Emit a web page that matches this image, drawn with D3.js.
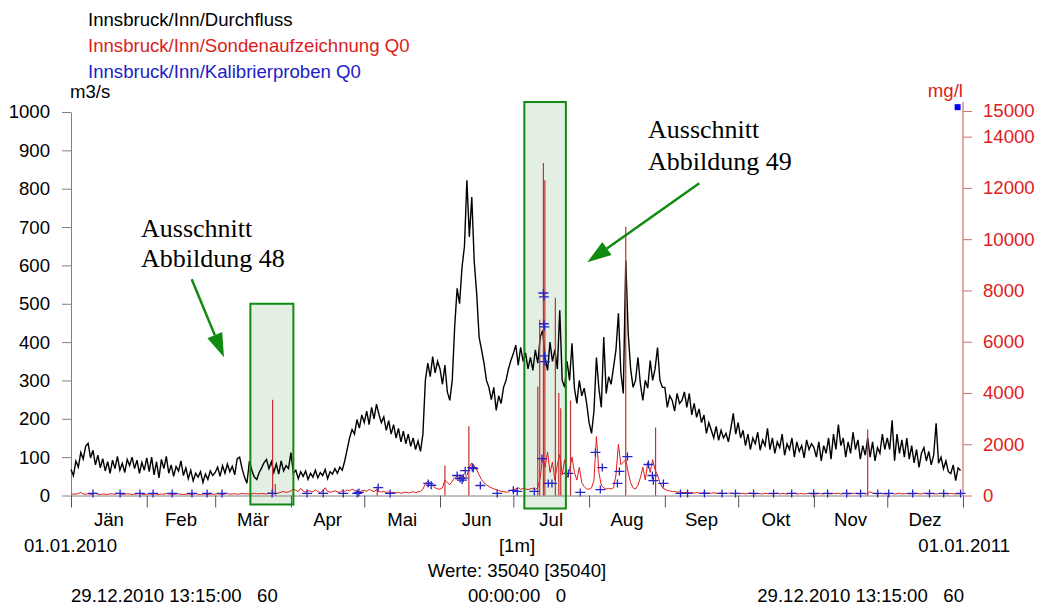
<!DOCTYPE html>
<html>
<head>
<meta charset="utf-8">
<script src="https://cdn.jsdelivr.net/npm/d3@7"></script>
<style>
  body { margin: 0; background: #fff; }
  text { font-family: "Liberation Sans", Arial, sans-serif; font-size: 18.6px; }
  .serif { font-family: "Liberation Serif", "Times New Roman", serif; font-size: 26px; }
</style>
</head>
<body>
<div id="chart"></div>
<script>
// Durchfluss m3/s, one reading per day from 01.01.2010
const flow = [
  68,52,90,74,112,95,128,136,98,118,80,105,72,96,64,88,58,92,70,102,66,84,60,94,78,100,70,92,58,86,66,
  98,62,100,54,88,46,94,70,102,58,80,50,76,64,90,52,72,44,66,38,58,48,62,34,56,42,64,52,
  60,74,50,78,58,82,62,76,54,96,100,70,48,32,90,66,48,42,60,72,86,94,70,88,60,82,56,90,64,78,70,
  112,58,66,44,62,50,64,42,58,48,66,46,60,52,68,44,62,56,70,58,74,66,90,120,150,172,160,198,176,210,
  190,220,185,230,200,238,212,190,205,170,195,160,185,150,175,140,168,135,160,128,150,120,142,115,160,300,345,310,362,320,350,
  330,290,340,270,248,300,440,540,500,595,650,822,674,778,610,527,413,380,345,300,282,250,282,222,260,240,282,300,330,352,
  370,392,340,386,350,372,330,360,326,380,345,413,430,360,326,400,350,380,330,483,300,282,350,300,397,280,240,300,260,280,240,
  190,162,220,360,280,230,413,266,310,290,334,380,475,320,266,613,423,330,282,300,360,290,248,300,280,352,300,330,386,300,282,
  282,230,260,248,220,266,240,248,270,230,266,210,240,204,226,190,210,162,190,170,150,180,144,170,150,162,140,175,214,160,
  190,150,170,130,160,120,150,135,165,118,145,130,175,120,150,110,140,125,160,105,135,120,150,100,140,115,130,98,145,120,135,
  125,100,140,90,130,110,150,95,160,120,185,130,150,100,140,110,165,120,145,95,130,105,150,100,140,90,125,110,160,120,
  150,120,196,91,160,110,145,100,150,95,130,85,120,73,110,125,90,115,80,105,188,84,100,70,90,62,57,80,39,72,65
];

// Sondenaufzeichnung mg/l, one reading per day
const conc = [
  40,60,50,80,120,60,50,70,40,60,90,50,40,60,50,40,70,60,50,80,60,40,50,70,60,40,50,60,80,50,40,
  50,60,40,70,50,40,60,50,80,60,50,40,60,70,50,40,50,60,40,50,70,50,40,60,50,40,60,50,
  50,70,60,40,60,80,50,60,70,50,60,80,60,70,50,60,90,70,60,80,70,60,100,80,90,70,100,130,160,120,140,
  180,260,200,150,280,170,130,200,160,140,220,150,120,170,300,160,130,150,180,140,120,200,160,220,180,250,200,160,140,180,
  200,160,240,190,150,220,170,130,160,120,140,110,130,100,120,90,110,130,100,120,150,110,140,160,250,450,560,500,380,300,260,
  240,300,600,500,420,560,700,760,640,800,700,780,1100,1270,1150,1000,800,620,500,420,350,300,260,230,200,160,150,130,140,200,
  220,260,300,240,280,250,230,260,280,240,300,700,1500,1100,1700,900,1300,600,1200,1600,800,1400,700,1000,1500,900,600,1100,500,350,250,
  250,300,600,2300,900,400,300,250,280,250,300,800,2000,1200,1300,1400,900,500,300,250,400,700,1100,600,1300,900,1400,1000,800,500,300,
  250,200,180,150,160,130,140,120,110,130,100,120,90,110,100,80,120,90,100,80,110,90,80,100,70,90,80,100,70,80,
  80,70,90,60,80,100,70,60,80,70,60,90,70,80,60,70,90,60,80,70,60,80,70,90,60,70,80,60,70,90,60,
  70,60,80,70,60,90,70,60,80,70,90,60,70,80,60,70,90,80,60,70,80,60,70,150,90,70,60,80,70,60,
  60,70,80,60,70,90,60,70,80,60,70,60,80,70,60,90,70,60,80,70,60,70,80,60,70,60,80,70,60,70,60
];

// short peaks of the probe record: [day of year, mg/l]
const concSpikes = [
  [82.5,3740],[83.6,450],[125.3,350],[153.0,1170],[162.8,2700],[191.0,4250],[191.8,6860],
  [193.3,12970],[193.9,12300],[198.2,7710],[199.6,4000],[200.4,3400],[204.4,3700],
  [227.0,10480],[239.2,2650],[326.0,2570]
];

// Kalibrierproben: [day of year, mg/l]
const samples = [
  [9.0,80],[20.1,80],[28.2,80],[33.6,80],[41.4,80],[49.5,80],[55.7,80],[61.8,80],[82.3,80],
  [96.6,80],[103.2,80],[111.4,80],[117.1,80],[117.8,120],[125.7,310],[130.6,80],
  [146.2,470],[147.4,400],[158.0,780],[159.2,660],[160.0,600],[160.5,680],[161.3,970],
  [164.2,1090],[164.6,1050],[167.5,390],[174.4,80],[181.0,200],[182.6,160],[189.6,160],
  [192.7,1440],[193.3,7900],[193.5,7750],[193.5,6700],[193.7,6580],[193.7,5450],[193.9,5220],
  [195.3,470],[196.8,470],[203.5,860],[208.4,120],[214.6,1680],[216.6,230],[217.4,1090],
  [223.6,470],[224.4,940],[227.7,1520],[236.3,1210],[237.9,780],[238.3,580],[242.4,470],
  [249.4,80],[252.3,80],[259.2,80],[266.4,80],[271.9,80],[279.3,80],[287.5,80],[294.9,80],
  [303.9,80],[309.6,80],[317.4,80],[323.1,80],[330.1,80],[334.6,80],[344.4,80],[351.3,80],
  [357.1,80],[364.0,80]
];
const outOfRange = [[362.8,15150]];

const months = ["Jän","Feb","Mär","Apr","Mai","Jun","Jul","Aug","Sep","Okt","Nov","Dez"];
const leftTicks = [0,100,200,300,400,500,600,700,800,900,1000];
const rightTicks = [0,2000,4000,6000,8000,10000,12000,14000,15000];

const legend = [
  {label: "Innsbruck/Inn/Durchfluss", color: "#000"},
  {label: "Innsbruck/Inn/Sondenaufzeichnung Q0", color: "#dc1c1c"},
  {label: "Innsbruck/Inn/Kalibrierproben Q0", color: "#2020c8"}
];

// boxes: [from day, to day, top in m3/s]
const boxes = [[73.4, 91.0, 500], [185.5, 202.5, 1026]];

const width = 1040, height = 606;
const t0 = Date.UTC(2010, 0, 1);
const day = d => new Date(t0 + d * 864e5);

const svg = d3.select("#chart").append("svg")
  .attr("width", width).attr("height", height);

const x = d3.scaleUtc().domain([day(0), day(365)]).range([71, 963]);
const yL = d3.scaleLinear().domain([0, 1000]).range([495.5, 112]);
const yR = d3.scaleLinear().domain([0, 15000]).range([495.5, 111]);
const baseY = 495.5;

// highlight boxes (fill below data)
const green = "#118a11";
svg.selectAll(".boxfill").data(boxes).join("rect")
  .attr("x", d => x(day(d[0]))).attr("y", d => yL(d[2]))
  .attr("width", d => x(day(d[1])) - x(day(d[0])))
  .attr("height", (d, i) => (i === 0 ? 504.5 : 508.5) - yL(d[2]))
  .attr("fill", "#e3efe3");

// axes
const gx = svg.append("g").attr("transform", `translate(0,${baseY})`)
  .call(d3.axisBottom(x)
    .tickValues(d3.utcMonth.range(day(0), day(365.5)))
    .tickSize(12).tickSizeOuter(0).tickFormat(""));
gx.select(".domain").attr("stroke", "#808080");
gx.selectAll(".tick line").attr("stroke", "#555");

svg.selectAll(".month").data(months).join("text")
  .attr("x", (d, i) => (x(new Date(Date.UTC(2010, i, 1))) + x(new Date(Date.UTC(2010, i + 1, 1)))) / 2)
  .attr("y", 526).attr("text-anchor", "middle").text(d => d);

const gl = svg.append("g").attr("transform", "translate(71,0)")
  .call(d3.axisLeft(yL).tickValues(leftTicks).tickSize(9).tickSizeOuter(0).tickPadding(12)
    .tickFormat(d3.format("d")));
gl.select(".domain").attr("stroke", "#808080");
gl.selectAll(".tick line").attr("stroke", "#808080");
gl.selectAll("text").attr("font-size", null).attr("font-family", null).attr("fill", "#000");

const gr = svg.append("g").attr("transform", "translate(963,0)")
  .call(d3.axisRight(yR).tickValues(rightTicks).tickSize(9).tickSizeOuter(0).tickPadding(11).tickFormat(d3.format("d")));
gr.select(".domain").attr("stroke", "#c85050").attr("d", `M0,102V${baseY}`);
gr.selectAll(".tick line").attr("stroke", "#d07070");
gr.selectAll("text").attr("font-size", null).attr("font-family", null).attr("fill", "#e02020");

svg.append("text").attr("x", 70).attr("y", 98).text("m3/s");
svg.append("text").attr("x", 963).attr("y", 97).attr("text-anchor", "end").attr("fill", "#dc1c1c").text("mg/l");

// series
const lineFlow = d3.line().x((d, i) => x(day(i))).y(d => yL(d));
const lineConc = d3.line().x((d, i) => x(day(i))).y(d => yR(d));

svg.append("path").datum(flow).attr("d", lineFlow)
  .attr("fill", "none").attr("stroke", "#000").attr("stroke-width", 1.4);

svg.append("path").datum(conc).attr("d", lineConc)
  .attr("fill", "none").attr("stroke", "#e41a1a").attr("stroke-width", 1);

svg.selectAll(".spike").data(concSpikes).join("line")
  .attr("x1", d => x(day(d[0]))).attr("x2", d => x(day(d[0])))
  .attr("y1", yR(0)).attr("y2", d => yR(d[1]))
  .attr("stroke", "#c43030").attr("stroke-width", 1.2);

svg.selectAll(".sample").data(samples).join("path")
  .attr("transform", d => `translate(${x(day(d[0]))},${yR(d[1])})`)
  .attr("d", "M-5,0H5M0,-4V4")
  .attr("stroke", "#2424c8").attr("stroke-width", 1.3).attr("fill", "none");

svg.selectAll(".outside").data(outOfRange).join("rect")
  .attr("x", d => x(day(d[0])) - 3).attr("y", d => yR(d[1]) - 3)
  .attr("width", 6).attr("height", 6).attr("fill", "#0000ff");

// box outlines
svg.selectAll(".boxline").data(boxes).join("rect")
  .attr("x", d => x(day(d[0]))).attr("y", d => yL(d[2]))
  .attr("width", d => x(day(d[1])) - x(day(d[0])))
  .attr("height", (d, i) => (i === 0 ? 504.5 : 508.5) - yL(d[2]))
  .attr("fill", "none").attr("stroke", green).attr("stroke-width", 2);

// annotations
function arrow(x1, y1, x2, y2) {
  const len = Math.hypot(x2 - x1, y2 - y1), ux = (x2 - x1) / len, uy = (y2 - y1) / len;
  const bx = x2 - 24 * ux, by = y2 - 24 * uy;
  svg.append("line").attr("x1", x1).attr("y1", y1).attr("x2", bx).attr("y2", by)
    .attr("stroke", green).attr("stroke-width", 2.5);
  svg.append("path")
    .attr("d", `M${x2},${y2}L${bx - 8 * uy},${by + 8 * ux}L${bx + 8 * uy},${by - 8 * ux}Z`)
    .attr("fill", green);
}
arrow(191.7, 279.3, 224, 357.3);
arrow(699.3, 183.3, 587.3, 262.3);

svg.append("text").attr("class", "serif").attr("x", 141).attr("y", 237).text("Ausschnitt");
svg.append("text").attr("class", "serif").attr("x", 141).attr("y", 267).text("Abbildung 48");
svg.append("text").attr("class", "serif").attr("x", 648).attr("y", 138).text("Ausschnitt");
svg.append("text").attr("class", "serif").attr("x", 648).attr("y", 170).text("Abbildung 49");

// legend
svg.selectAll(".legend").data(legend).join("text")
  .attr("x", 88).attr("y", (d, i) => 25.5 + i * 26)
  .attr("fill", d => d.color).text(d => d.label);

// footer
const foot = [
  ["01.01.2010", 24, 552, "start"],
  ["[1m]", 517, 552, "middle"],
  ["01.01.2011", 1010, 552, "end"],
  ["Werte: 35040 [35040]", 517, 577, "middle"],
  ["29.12.2010 13:15:00   60", 71, 602, "start"],
  ["00:00:00   0", 517, 602, "middle"],
  ["29.12.2010 13:15:00   60", 964, 602, "end"]
];
svg.selectAll(".foot").data(foot).join("text")
  .attr("x", d => d[1]).attr("y", d => d[2]).attr("text-anchor", d => d[3])
  .style("white-space", "pre").text(d => d[0]);
</script>
</body>
</html>
